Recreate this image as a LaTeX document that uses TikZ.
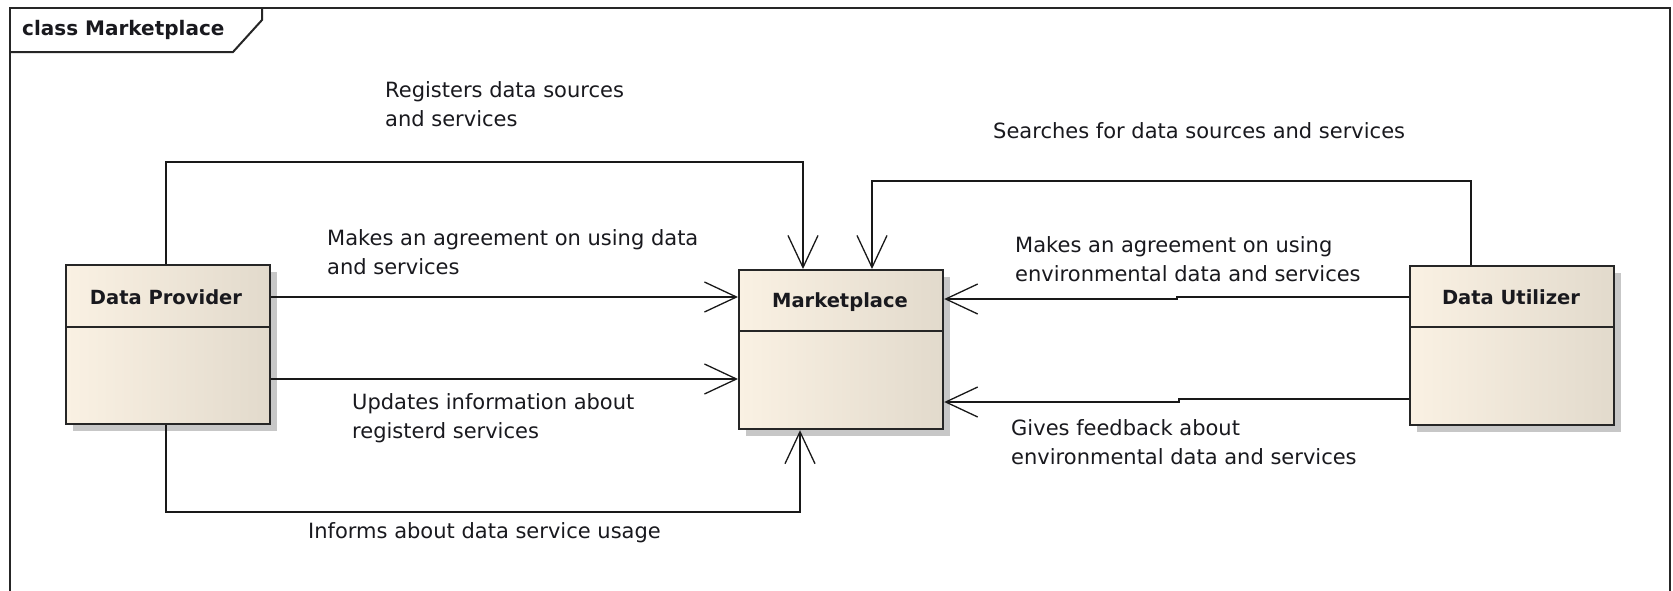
\documentclass[tikz,border=0pt]{standalone}
\usepackage{fontspec}
\setmainfont{DejaVu Sans}
\usetikzlibrary{arrows.meta,shadows}
\definecolor{boxl}{RGB}{250,241,227}
\definecolor{boxr}{RGB}{226,218,204}
\definecolor{txt}{RGB}{25,25,30}
\tikzset{
  umlbox/.style={draw=black!85, line width=2.2pt, left color=boxl, right color=boxr,
    minimum width=204pt, minimum height=159pt, anchor=north west, inner sep=0pt,
    general shadow={fill=black!22, shadow xshift=7pt, shadow yshift=-7pt}},
  boxtitle/.style={font=\fontsize{19.5}{23}\selectfont\bfseries, text=txt, inner sep=0pt},
  lbl/.style={font=\fontsize{21}{29}\selectfont, text=txt, inner sep=0pt, anchor=west, align=left},
  conn/.style={draw=black!90, line width=1.7pt},
  arr/.style={-{Straight Barb[length=32pt,width=30pt,line width=1.3pt]}},
  divline/.style={draw=black!85, line width=2pt}
}
\begin{document}
\begin{tikzpicture}[x=1pt,y=-1pt]
\clip (0,0) rectangle (1673,590);
\fill[white] (0,0) rectangle (1673,590);
% frame
\draw[line width=2pt, black!85] (10,8) rectangle (1670,620);
\node[font=\fontsize{20}{23}\selectfont\bfseries, text=txt, anchor=west, inner sep=0pt] (hdr) at (22,30) {class Marketplace};
\draw[line width=2pt, black!85] (10,52) -- (233,52) -- (262,20) -- (262,8);
% boxes
\node[umlbox] (prov) at (65,264) {};
\node[umlbox] (mkt) at (738,269) {};
\node[umlbox] (util) at (1409,265) {};
\draw[divline] (prov.west |- 0,327) -- (prov.east |- 0,327);
\draw[divline] (mkt.west |- 0,331) -- (mkt.east |- 0,331);
\draw[divline] (util.west |- 0,327) -- (util.east |- 0,327);
\node[boxtitle] (provt) at (166,297) {Data Provider};
\node[boxtitle] (mktt) at (840,302) {Marketplace};
\node[boxtitle] (utilt) at (1511,297) {Data Utilizer};
% connectors
\draw[conn,arr] (166,0 |- prov.north) -- (166,162) -- (803,162) -- (803,0 |- mkt.north);
\draw[conn,arr] (prov.east |- 0,297) -- (mkt.west |- 0,297);
\draw[conn,arr] (prov.east |- 0,379) -- (mkt.west |- 0,379);
\draw[conn,arr] (166,0 |- prov.south) -- (166,512) -- (800,512) -- (800,0 |- mkt.south);
\draw[conn,arr] (1471,0 |- util.north) -- (1471,181) -- (872,181) -- (872,0 |- mkt.north);
\draw[conn,arr] (util.west |- 0,297) -- (1177,297) -- (1177,299) -- (mkt.east |- 0,299);
\draw[conn,arr] (util.west |- 0,399) -- (1179,399) -- (1179,402) -- (mkt.east |- 0,402);
% labels
\node[lbl] (l1) at (385,104) {Registers data sources\\and services};
\node[lbl] (l2) at (327,252) {Makes an agreement on using data\\and services};
\node[lbl] (l3) at (352,418) {Updates information about\\registerd services};
\node[lbl] (l4) at (308,533) {Informs about data service usage};
\node[lbl] (l5) at (993,131) {Searches for data sources and services};
\node[lbl] (l6) at (1015,259) {Makes an agreement on using\\environmental data and services};
\node[lbl] (l7) at (1011,442) {Gives feedback about\\environmental data and services};
\end{tikzpicture}
\end{document}
